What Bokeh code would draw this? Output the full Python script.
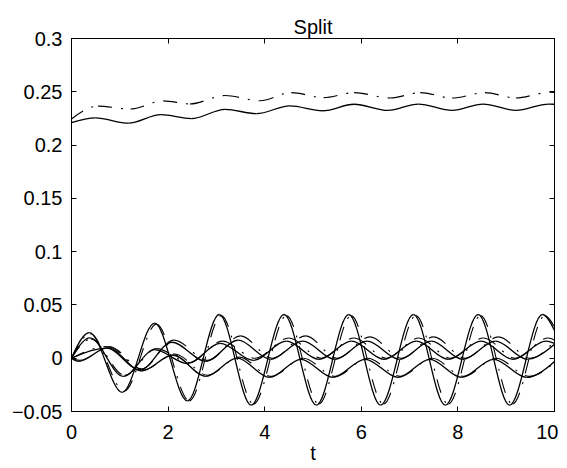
import numpy as np
from bokeh.plotting import figure
from bokeh.models import Range1d, FixedTicker, LinearAxis, ColumnDataSource
from bokeh.embed import file_html
from bokeh.resources import INLINE

# ---------------- data (extrema) ----------------
x_ticks = [0, 2, 4, 6, 8, 10]
y_ticks = [-0.05, 0, 0.05, 0.1, 0.15, 0.2, 0.25, 0.3]
y_tick_labels = ["\u22120.05", "0", "0.05", "0.1", "0.15", "0.2", "0.25", "0.3"]

# upper pair
top_exact_t = [0, 0.5, 1.18, 1.85, 2.48, 3.18, 3.83, 4.52, 5.2, 5.85, 6.55, 7.18, 7.88, 8.52, 9.2, 9.88, 10]
top_exact_v = [0.221, 0.2255, 0.2205, 0.2285, 0.2248, 0.2335, 0.2295, 0.2368, 0.2322, 0.2383,
               0.2325, 0.2385, 0.2325, 0.2385, 0.2325, 0.2385, 0.2383]
top_split_t = [0, 0.55, 1.22, 1.9, 2.45, 3.18, 3.9, 4.55, 5.22, 5.85, 6.6, 7.22, 7.88, 8.56, 9.2, 9.9, 10]
top_split_v = [0.2245, 0.2365, 0.2338, 0.2415, 0.2386, 0.2465, 0.2416, 0.2492, 0.2445, 0.2492,
               0.2442, 0.2492, 0.2442, 0.2492, 0.2442, 0.2495, 0.2494]

# lower curves, exact (solid)
a_t = [0, 0.37, 1.05, 1.72, 2.4, 3.06, 3.72, 4.4, 5.07, 5.74, 6.4, 7.08, 7.74, 8.42, 9.07, 9.75, 10]
a_v = [0, 0.024, -0.032, 0.033, -0.040, 0.041, -0.044, 0.041, -0.044, 0.041, -0.044, 0.041,
       -0.044, 0.041, -0.044, 0.041, 0.026]
b_t = [0, 0.38, 1.07, 1.72, 2.4, 3.08, 3.76, 4.45, 5.12, 5.8, 6.47, 7.14, 7.8, 8.48, 9.14, 9.82, 10]
b_v = [0, 0.019, -0.017, 0.008, -0.005, 0.014, -0.002, 0.016, -0.001, 0.016, -0.001, 0.016,
       -0.001, 0.016, -0.001, 0.016, 0.014]
c_t = [0, 0.72, 1.42, 2.08, 2.78, 3.45, 4.12, 4.79, 5.45, 6.12, 6.79, 7.45, 8.1, 8.78, 9.44, 10]
c_v = [0, 0.0095, -0.011, 0.015, -0.003, 0.017, -0.001, 0.016, -0.001, 0.016, -0.001, 0.016,
       -0.001, 0.016, -0.001, 0.013]
e_t = [0, 0.15, 0.75, 1.45, 2.1, 2.78, 3.43, 4.1, 4.75, 5.41, 6.08, 6.76, 7.42, 8.07, 8.74, 9.42, 10]
e_v = [0, -0.003, 0.010, -0.012, 0.003, -0.017, 0.000, -0.018, -0.001, -0.018, -0.001, -0.018,
       -0.001, -0.018, -0.001, -0.018, -0.003]

# lower curves, split (dash-dot)
a2_t = [0, 0.39, 1.09, 1.76, 2.44, 3.1, 3.77, 4.45, 5.12, 5.79, 6.46, 7.13, 7.8, 8.47, 9.13, 9.8, 10]
a2_v = [0, 0.023, -0.031, 0.032, -0.040, 0.040, -0.043, 0.040, -0.043, 0.040, -0.043, 0.040,
        -0.043, 0.040, -0.043, 0.040, 0.029]
b2_t = [0, 0.4, 1.1, 1.76, 2.44, 3.12, 3.8, 4.5, 5.17, 5.85, 6.52, 7.19, 7.85, 8.53, 9.19, 9.87, 10]
b2_v = [0, 0.018, -0.016, 0.009, -0.004, 0.016, 0.000, 0.019, 0.000, 0.019, 0.000, 0.019,
        0.000, 0.019, 0.000, 0.019, 0.017]
c2_t = [0, 0.75, 1.45, 2.12, 2.82, 3.5, 4.16, 4.85, 5.5, 6.18, 6.84, 7.5, 8.15, 8.84, 9.5, 10]
c2_v = [0, 0.011, -0.010, 0.017, -0.002, 0.021, 0.000, 0.021, 0.000, 0.020, 0.000, 0.020,
        0.000, 0.020, 0.000, 0.016]
e2_t = [0, 0.17, 0.78, 1.49, 2.14, 2.82, 3.47, 4.14, 4.8, 5.46, 6.13, 6.81, 7.47, 8.12, 8.79, 9.47, 10]
e2_v = [0, -0.002, 0.011, -0.011, 0.004, -0.016, 0.001, -0.017, 0.000, -0.017, 0.000, -0.017,
        0.000, -0.017, 0.000, -0.017, -0.004]


def bezier_source(t, v):
    """Smooth cubic segments through the read extrema (horizontal tangents at extrema)."""
    t = np.asarray(t, float)
    v = np.asarray(v, float)
    n = len(t)
    m = np.zeros(n)
    for i in range(n):
        if i == 0:
            m[i] = 1.6 * (v[1] - v[0]) / (t[1] - t[0])
        elif i == n - 1:
            m[i] = 1.6 * (v[-1] - v[-2]) / (t[-1] - t[-2])
        else:
            d1 = v[i] - v[i - 1]
            d2 = v[i + 1] - v[i]
            m[i] = 0.0 if d1 * d2 <= 0 else (v[i + 1] - v[i - 1]) / (t[i + 1] - t[i - 1])
    dx = np.diff(t)
    return ColumnDataSource(dict(
        x0=t[:-1], y0=v[:-1], x1=t[1:], y1=v[1:],
        cx0=t[:-1] + dx / 3, cy0=v[:-1] + m[:-1] * dx / 3,
        cx1=t[1:] - dx / 3, cy1=v[1:] - m[1:] * dx / 3))


FONT = "Liberation Sans"

p = figure(frame_width=483, frame_height=373, x_range=Range1d(0, 10), y_range=Range1d(-0.05, 0.3),
           output_backend="svg", toolbar_location=None, title="Split",
           x_axis_label="t")
p.min_border_left = 71
p.min_border_right = 4
p.min_border_top = 38
p.min_border_bottom = 50
p.background_fill_color = "white"
p.border_fill_color = "white"
p.outline_line_color = "black"
p.outline_line_width = 1
p.xgrid.visible = False
p.ygrid.visible = False

p.title.align = "center"
p.title.text_font = FONT
p.title.text_font_size = "20px"
p.title.text_font_style = "normal"
p.title.text_color = "black"
p.title.standoff = 2
p.title.offset = 0

def style_axis(ax):
    ax.axis_line_color = "black"
    ax.major_tick_line_color = "black"
    ax.major_tick_in = 5
    ax.major_tick_out = 0
    ax.minor_tick_line_color = None
    ax.major_label_text_font = FONT
    ax.major_label_text_font_size = "20px"
    ax.major_label_text_color = "black"

xa = p.xaxis[0]
ya = p.yaxis[0]
xa.ticker = FixedTicker(ticks=x_ticks)
ya.ticker = FixedTicker(ticks=y_ticks)
ya.major_label_overrides = {float(k): s for k, s in zip(y_ticks, y_tick_labels)}
style_axis(xa)
style_axis(ya)
xa.major_label_standoff = 13
ya.major_label_standoff = 9
xa.axis_label_text_font = FONT
xa.axis_label_text_font_size = "20px"
xa.axis_label_text_font_style = "normal"
xa.axis_label_text_color = "black"
xa.axis_label_standoff = 0

top_ax = LinearAxis(ticker=FixedTicker(ticks=x_ticks),
                    major_label_overrides={float(k): "" for k in x_ticks})
right_ax = LinearAxis(ticker=FixedTicker(ticks=y_ticks),
                      major_label_overrides={float(k): "" for k in y_ticks})
for ax in (top_ax, right_ax):
    style_axis(ax)
    ax.major_label_standoff = 0
    ax.major_label_text_font_size = "1px"
top_ax.major_label_standoff = 8
p.add_layout(top_ax, "above")
p.add_layout(right_ax, "right")

solid_kw = dict(line_color="black", line_width=1.3)
dash_kw = dict(line_color="black", line_width=1.1, line_dash="14 9 2 9")

for t, v in [(a_t, a_v), (b_t, b_v), (c_t, c_v), (e_t, e_v), (top_exact_t, top_exact_v)]:
    p.bezier(x0="x0", y0="y0", x1="x1", y1="y1", cx0="cx0", cy0="cy0", cx1="cx1", cy1="cy1",
             source=bezier_source(t, v), **solid_kw)
for t, v in [(a2_t, a2_v), (b2_t, b2_v), (c2_t, c2_v), (e2_t, e2_v), (top_split_t, top_split_v)]:
    p.bezier(x0="x0", y0="y0", x1="x1", y1="y1", cx0="cx0", cy0="cy0", cx1="cx1", cy1="cy1",
             source=bezier_source(t, v), **dash_kw)

open("out.html", "w").write(file_html(p, INLINE))
